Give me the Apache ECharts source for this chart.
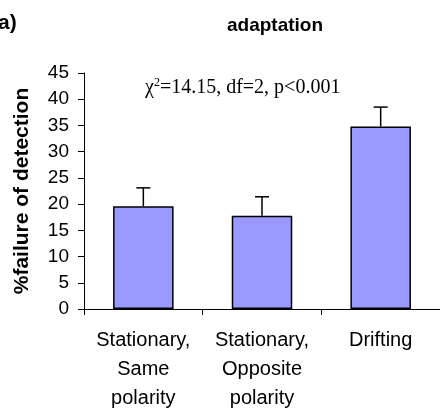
<!DOCTYPE html>
<html>
<head>
<meta charset="utf-8">
<script src="https://cdn.jsdelivr.net/npm/echarts@6/dist/echarts.min.js"></script>
<style>
html, body { margin: 0; padding: 0; background: #fff; }
#chart { width: 440px; height: 413px; }
</style>
</head>
<body>
<div id="chart"></div>
<script>
const categories = ['Stationary,\nSame\npolarity', 'Stationary,\nOpposite\npolarity', 'Drifting'];
const failureValues = [19.6, 17.8, 34.8];
const errorTops = [23.1, 21.4, 38.5];
const yTicks = { min: 0, max: 45, interval: 5 };

let chart = echarts.init(document.getElementById('chart'));

let errorData = failureValues.map((v, i) => [i, v, errorTops[i]]);

let option = {
    backgroundColor: '#ffffff',
    animation: false,
    title: [
        {
            text: 'adaptation',
            left: 270,
            top: 11,
            textAlign: 'center',
            textStyle: { fontFamily: 'Liberation Sans, Arial', fontSize: 19, fontWeight: 'bold', color: '#000' }
        },
        {
            text: 'a)',
            left: -7,
            top: 8,
            textStyle: { fontFamily: 'Liberation Sans, Arial', fontSize: 21, fontWeight: 'bold', color: '#000' }
        }
    ],
    graphic: [
        {
            type: 'text',
            left: 145,
            top: 77,
            style: {
                text: '{a|χ}{s|2}{a|=14.15, df=2, p<0.001}',
                rich: {
                    a: { fontFamily: 'Liberation Serif, Times New Roman', fontSize: 20, fill: '#000' },
                    s: { fontFamily: 'Liberation Serif, Times New Roman', fontSize: 12, fill: '#000', verticalAlign: 'top', padding: [0, 0, 10, 0] }
                }
            }
        }
    ],
    grid: {
        left: 84,
        right: 0,
        top: 73,
        bottom: 102,
        containLabel: false
    },
    xAxis: {
        type: 'category',
        data: categories,
        axisLine: { lineStyle: { color: '#000', width: 1 } },
        axisTick: { show: true, interval: 0, length: 6, lineStyle: { color: '#000' } },
        axisLabel: {
            interval: 0,
            margin: 17,
            fontFamily: 'Liberation Sans, Arial',
            fontSize: 20,
            lineHeight: 29,
            color: '#000'
        },
        splitLine: { show: false }
    },
    yAxis: {
        type: 'value',
        min: yTicks.min,
        max: yTicks.max,
        interval: yTicks.interval,
        name: '%failure of detection',
        nameLocation: 'middle',
        nameGap: 51,
        nameTextStyle: { fontFamily: 'Liberation Sans, Arial', fontSize: 21, fontWeight: 'bold', color: '#000' },
        axisLine: { show: true, lineStyle: { color: '#000', width: 1 } },
        axisTick: { show: true, length: 6, lineStyle: { color: '#000' } },
        axisLabel: { fontFamily: 'Liberation Sans, Arial', fontSize: 19, color: '#000', margin: 15 },
        splitLine: { show: false }
    },
    series: [
        {
            type: 'bar',
            data: failureValues,
            barWidth: '51%',
            itemStyle: { color: '#9999FF', borderColor: '#000', borderWidth: 1.5 },
            z: 2
        },
        {
            type: 'custom',
            data: errorData,
            z: 3,
            renderItem: function (params, api) {
                let x = api.value(0);
                let base = api.coord([x, api.value(1)]);
                let top = api.coord([x, api.value(2)]);
                let half = 7;
                return {
                    type: 'group',
                    children: [
                        {
                            type: 'line',
                            shape: { x1: base[0], y1: base[1], x2: top[0], y2: top[1] },
                            style: { stroke: '#000', lineWidth: 1.5 }
                        },
                        {
                            type: 'line',
                            shape: { x1: top[0] - half, y1: top[1], x2: top[0] + half, y2: top[1] },
                            style: { stroke: '#000', lineWidth: 1.5 }
                        }
                    ]
                };
            }
        }
    ]
};

chart.setOption(option);
</script>
</body>
</html>
